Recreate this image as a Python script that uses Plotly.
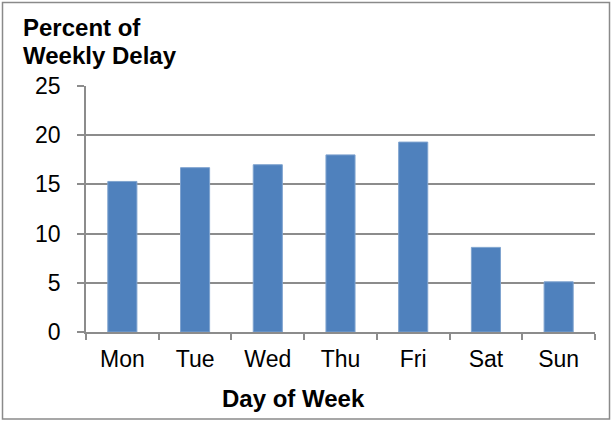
import plotly.graph_objects as go

days = ["Mon", "Tue", "Wed", "Thu", "Fri", "Sat", "Sun"]
pct_delay = [15.3, 16.7, 17.0, 18.0, 19.3, 8.6, 5.1]
y_ticks = [0, 5, 10, 15, 20, 25]

W, H = 612, 421
L, R, T, B = 86, 17, 86, 89
pw, ph = W - L - R, H - T - B

def px_x(p):
    return (p - L) / pw

def px_y(p):
    return (H - B - p) / ph

FONT = "Liberation Sans, Arial, sans-serif"
GRID = "#8c8c8c"

fig = go.Figure(go.Bar(
    x=days, y=pct_delay,
    marker=dict(color="#4F81BD", line=dict(color="#7FA3CF", width=1)),
))

fig.update_layout(
    width=W, height=H,
    margin=dict(l=L, r=R, t=T, b=B),
    paper_bgcolor="white", plot_bgcolor="white",
    bargap=0.6,
    showlegend=False,
    font=dict(family=FONT, size=23, color="black"),
    xaxis=dict(
        type="category", showline=True, linecolor=GRID, linewidth=1.5,
        ticks="outside", tickson="boundaries", ticklen=6, tickcolor=GRID, tickwidth=1.5,
        showgrid=False, tickfont=dict(size=23), ticklabelstandoff=6,
    ),
    yaxis=dict(
        range=[0, 25], tickvals=y_ticks, showline=True, linecolor=GRID, linewidth=1.5,
        ticks="outside", ticklen=7, tickcolor=GRID, tickwidth=1.5,
        showgrid=True, gridcolor=GRID, gridwidth=1.5, zeroline=False,
        tickfont=dict(size=23), ticklabelstandoff=12,
    ),
    annotations=[
        dict(text="<b>Percent of</b>", xref="paper", yref="paper",
             x=px_x(21), y=px_y(28), xanchor="left", yanchor="middle", align="left",
             showarrow=False, font=dict(size=24, family=FONT)),
        dict(text="<b>Weekly Delay</b>", xref="paper", yref="paper",
             x=px_x(21), y=px_y(55), xanchor="left", yanchor="middle", align="left",
             showarrow=False, font=dict(size=24, family=FONT)),
        dict(text="<b>Day of Week</b>", xref="paper", yref="paper",
             x=px_x(293), y=px_y(398), xanchor="center", yanchor="middle",
             showarrow=False, font=dict(size=24, family=FONT)),
    ],
    shapes=[
        dict(type="rect", xref="paper", yref="paper",
             x0=px_x(2.5), x1=px_x(609.5), y0=px_y(419), y1=px_y(2.5),
             line=dict(color="#8a8a8a", width=1.5), fillcolor="rgba(0,0,0,0)", layer="above"),
    ],
)

fig.write_html("out.html", config={"displayModeBar": False},
               post_script="document.body.style.margin='0';document.body.style.padding='0';")
